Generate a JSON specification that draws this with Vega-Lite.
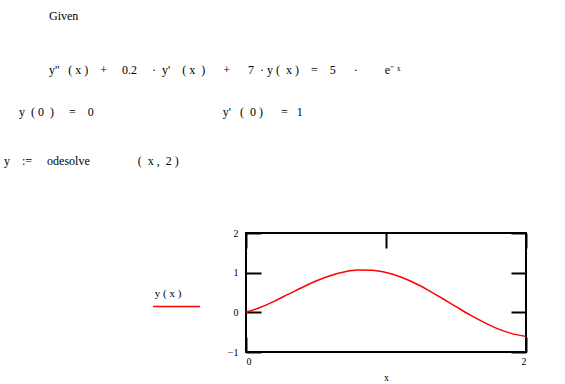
{
  "$schema": "https://vega.github.io/schema/vega-lite/v6.json",
  "autosize": "none",
  "width": 280,
  "height": 119,
  "padding": {"left": 246, "top": 233, "right": 39, "bottom": 32},
  "background": "white",
  "config": {
    "view": {"stroke": "black", "strokeWidth": 2},
    "font": "Liberation Serif"
  },
  "title": {
    "text": [
      "\u200b\u00a0\u00a0\u00a0\u00a0\u00a0\u00a0\u00a0\u00a0\u00a0\u00a0\u00a0\u00a0\u00a0\u00a0\u00a0Given",
      "\u200b\u00a0\u00a0\u00a0\u00a0\u00a0\u00a0\u00a0\u00a0\u00a0\u00a0\u00a0\u00a0\u00a0\u00a0\u00a0y''\u00a0\u00a0\u00a0(\u00a0x\u00a0)\u00a0\u00a0\u00a0\u00a0+\u00a0\u00a0\u00a0\u00a0\u00a00.2\u00a0\u00a0\u00a0\u00a0\u00a0·\u00a0\u00a0y'\u00a0\u00a0\u00a0\u00a0(\u00a0x\u00a0\u00a0)\u00a0\u00a0\u00a0\u00a0\u00a0\u00a0+\u00a0\u00a0\u00a0\u00a0\u00a0\u00a07\u00a0\u00a0·\u00a0y\u00a0(\u00a0\u00a0x\u00a0)\u00a0\u00a0\u00a0\u00a0=\u00a0\u00a0\u00a0\u00a05\u00a0\u00a0\u00a0\u00a0\u00a0\u00a0·\u00a0\u00a0\u00a0\u00a0\u00a0\u00a0\u00a0\u00a0\u00a0e⁻\u00a0ˣ"
    ],
    "subtitle": [
      "\u200b\u00a0\u00a0\u00a0\u00a0\u00a0y\u00a0\u00a0(\u00a00\u00a0\u00a0)\u00a0\u00a0\u00a0\u00a0\u00a0=\u00a0\u00a0\u00a0\u00a00\u00a0\u00a0\u00a0\u00a0\u00a0\u00a0\u00a0\u00a0\u00a0\u00a0\u00a0\u00a0\u00a0\u00a0\u00a0\u00a0\u00a0\u00a0\u00a0\u00a0\u00a0\u00a0\u00a0\u00a0\u00a0\u00a0\u00a0\u00a0\u00a0\u00a0\u00a0\u00a0\u00a0\u00a0\u00a0\u00a0\u00a0\u00a0\u00a0\u00a0\u00a0\u00a0\u00a0y'\u00a0\u00a0\u00a0(\u00a0\u00a00\u00a0)\u00a0\u00a0\u00a0\u00a0\u00a0\u00a0=\u00a0\u00a0\u00a01",
      "\u200by\u00a0\u00a0\u00a0\u00a0:=\u00a0\u00a0\u00a0\u00a0\u00a0odesolve\u00a0\u00a0\u00a0\u00a0\u00a0\u00a0\u00a0\u00a0\u00a0\u00a0\u00a0\u00a0\u00a0\u00a0\u00a0\u00a0(\u00a0\u00a0x\u00a0,\u00a0\u00a02\u00a0)"
    ],
    "anchor": "start",
    "frame": "group",
    "orient": "top",
    "font": "Liberation Serif",
    "fontSize": 12,
    "fontWeight": "normal",
    "color": "black",
    "lineHeight": 54,
    "subtitleFont": "Liberation Serif",
    "subtitleFontSize": 12,
    "subtitleFontWeight": "normal",
    "subtitleColor": "black",
    "subtitleLineHeight": 49,
    "subtitlePadding": 30,
    "baseline": "alphabetic",
    "offset": 0,
    "dx": -242,
    "dy": -51
  },
  "data": {
    "values": [
      {"x": 0.0, "y": 0.0},
      {"x": 0.1, "y": 0.1216},
      {"x": 0.2, "y": 0.2772},
      {"x": 0.3, "y": 0.4509},
      {"x": 0.4, "y": 0.6263},
      {"x": 0.5, "y": 0.7885},
      {"x": 0.6, "y": 0.9227},
      {"x": 0.7, "y": 1.0179},
      {"x": 0.8, "y": 1.0655},
      {"x": 0.9, "y": 1.0607},
      {"x": 1.0, "y": 1.003},
      {"x": 1.1, "y": 0.8957},
      {"x": 1.2, "y": 0.7449},
      {"x": 1.3, "y": 0.5605},
      {"x": 1.4, "y": 0.3551},
      {"x": 1.5, "y": 0.1425},
      {"x": 1.6, "y": -0.066},
      {"x": 1.7, "y": -0.2543},
      {"x": 1.8, "y": -0.4165},
      {"x": 1.9, "y": -0.5364},
      {"x": 2.0, "y": -0.6086}
    ]
  },
  "layer": [
    {
      "mark": {"type": "line", "strokeWidth": 1.5, "interpolate": "monotone"},
      "encoding": {
        "x": {
          "field": "x", "type": "quantitative",
          "scale": {"domain": [0, 2], "nice": false, "zero": false},
          "axis": {
            "orient": "bottom", "values": [0, 1, 2], "format": "d",
            "tickSize": -15, "tickWidth": 2, "tickColor": "black",
            "domain": false, "grid": false,
            "labelFont": "Liberation Serif", "labelFontSize": 10, "labelColor": "black",
            "labelPadding": 19,
            "title": "x", "titleFont": "Liberation Serif", "titleFontSize": 10,
            "titleFontWeight": "normal", "titleColor": "black", "titlePadding": 6
          }
        },
        "y": {
          "field": "y", "type": "quantitative",
          "scale": {"domain": [-1, 2], "nice": false, "zero": false},
          "axis": {
            "orient": "left", "values": [-1, 0, 1, 2], "format": "d",
            "tickSize": -15, "tickWidth": 2, "tickColor": "black",
            "domain": false, "grid": false,
            "labelFont": "Liberation Serif", "labelFontSize": 10, "labelColor": "black",
            "labelPadding": 23, "title": null
          }
        },
        "color": {
          "datum": "y ( x )",
          "scale": {"range": ["#ff0000"]},
          "legend": {
            "orient": "none", "legendX": -94, "legendY": 55,
            "title": "\u200b\u00a0y\u00a0(\u00a0x\u00a0)", "titleFont": "Liberation Serif", "titleFontSize": 11,
            "titleFontWeight": "normal", "titleColor": "black", "titlePadding": -17,
            "titleAnchor": "start",
            "symbolType": "stroke", "symbolSize": 2209, "symbolStrokeWidth": 1.5,
            "labelExpr": "''", "labelOffset": 0, "padding": 0
          }
        }
      }
    },
    {
      "mark": {"type": "line", "strokeOpacity": 0},
      "encoding": {
        "x": {
          "field": "x", "type": "quantitative",
          "axis": {
            "orient": "top", "values": [0, 1, 2], "labels": false,
            "tickSize": -15, "tickWidth": 2, "tickColor": "black",
            "domain": false, "grid": false, "title": null
          }
        },
        "y": {
          "field": "y", "type": "quantitative",
          "axis": {
            "orient": "right", "values": [-1, 0, 1, 2], "labels": false,
            "tickSize": -15, "tickWidth": 2, "tickColor": "black",
            "domain": false, "grid": false, "title": null
          }
        }
      }
    }
  ],
  "resolve": {"axis": {"x": "independent", "y": "independent"}}
}
